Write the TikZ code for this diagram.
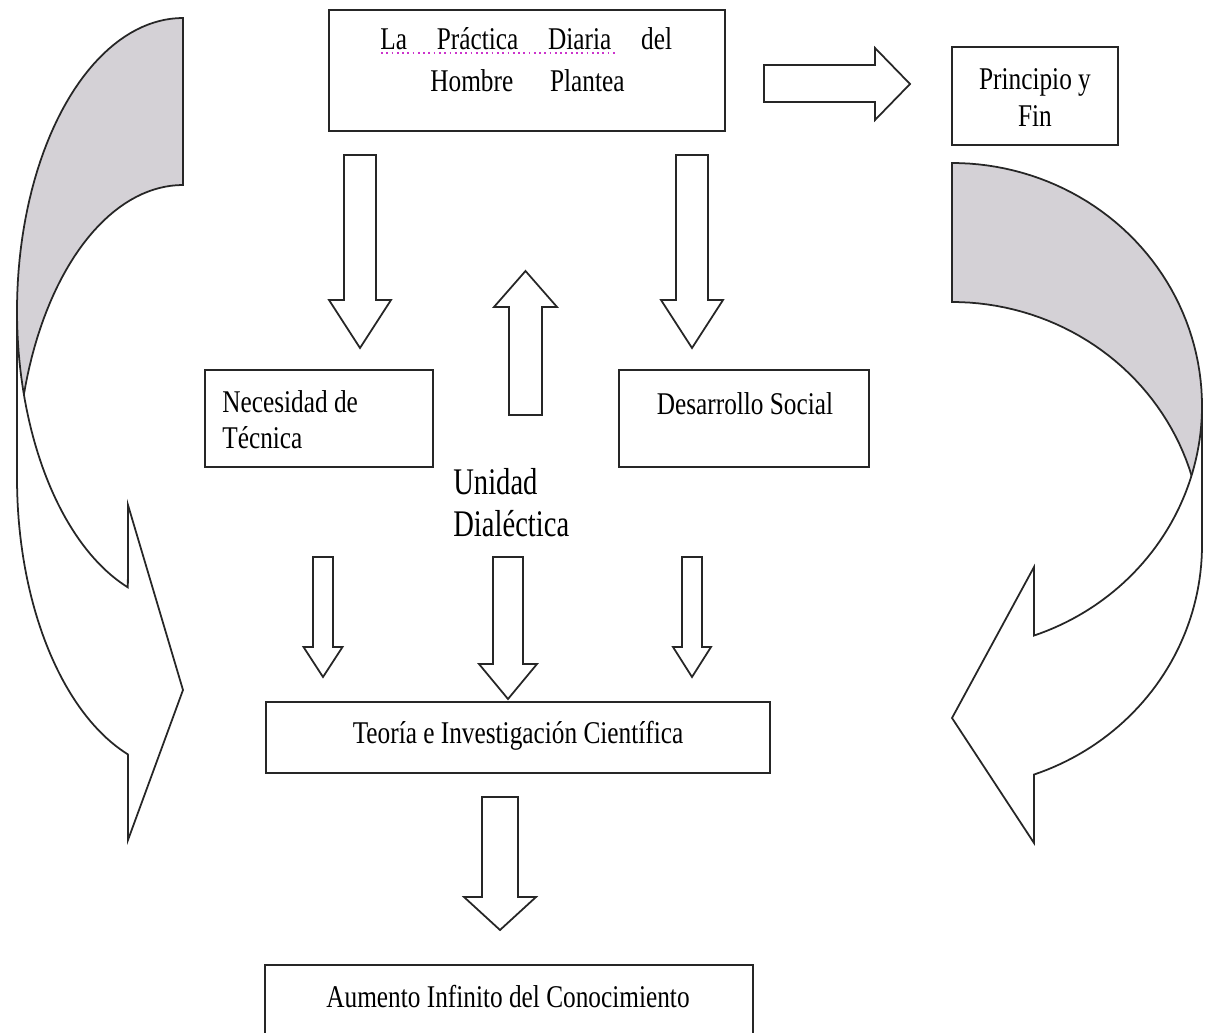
\documentclass[tikz,border=0pt]{standalone}
\usepackage{fontspec}
\setmainfont{Liberation Serif}[FakeStretch=0.8]
\newfontfamily\bigserif{Liberation Serif}[FakeStretch=0.76]

% block arrow: tail centre x, tail y, shaft half width, head base y, head half width, tip y
\newcommand\blkarrow[6]{%
  \draw[blockarrow] ({#1-#3},#2) -- ({#1+#3},#2) -- ({#1+#3},#4) -- ({#1+#5},#4)
    -- (#1,#6) -- ({#1-#5},#4) -- ({#1-#3},#4) -- cycle;}

\begin{document}
\begin{tikzpicture}[x=0.02cm, y=-0.02cm,
  outline/.style={draw=black!85, line width=1pt, line join=miter},
  box/.style={outline, fill=white, inner sep=0pt, rectangle},
  blockarrow/.style={outline, fill=white},
  backband/.style={outline, fill={rgb,255:red,212;green,209;blue,214}},
  frontband/.style={outline, fill=white},
  txt/.style={inner sep=0pt, font=\fontsize{18}{21}\selectfont},
  bigtxt/.style={inner sep=0pt, font=\bigserif\fontsize{21.4}{24}\selectfont}]

\clip (0,0) rectangle (1212,1033);
\fill[white] (0,0) rectangle (1212,1033);

% ---- curved arrow on the left (back band, then front band with head)
\draw[backband] (183,185)
  -- plot[domain=270:180, samples=45, variable=\t] ({183+166*cos(\t)},{478+293*sin(\t)})
  -- (17,311)
  -- plot[domain=180:270, samples=45, variable=\t] ({183+166*cos(\t)},{311+293*sin(\t)})
  -- cycle;
\draw[frontband] (17,311)
  -- plot[domain=180:109.4, samples=45, variable=\t] ({183+166*cos(\t)},{311+293*sin(\t)})
  -- (128,505) -- (183,690) -- (128,840) -- (128,757)
  -- plot[domain=109.4:180, samples=45, variable=\t] ({183+166*cos(\t)},{478+293*sin(\t)})
  -- cycle;

% ---- curved arrow on the right
\draw[backband] (952,302)
  -- plot[domain=270:360, samples=45, variable=\t] ({952+250*cos(\t)},{545+243*sin(\t)})
  -- (1202,406)
  -- plot[domain=360:270, samples=45, variable=\t] ({952+250*cos(\t)},{406+243*sin(\t)})
  -- cycle;
\draw[frontband] (1202,406)
  -- plot[domain=0:70.85, samples=45, variable=\t] ({952+250*cos(\t)},{406+243*sin(\t)})
  -- (1034,567) -- (952,718) -- (1034,843) -- (1034,775)
  -- plot[domain=70.85:0, samples=45, variable=\t] ({952+250*cos(\t)},{545+243*sin(\t)})
  -- cycle;

% ---- boxes
\node[box, minimum width=7.92cm, minimum height=2.42cm] (practica) at (527,70.5) {};
\node[box, minimum width=3.32cm, minimum height=1.96cm] (principio) at (1035,96) {};
\node[box, minimum width=4.56cm, minimum height=1.94cm] (necesidad) at (319,418.5) {};
\node[box, minimum width=5.00cm, minimum height=1.94cm] (desarrollo) at (744,418.5) {};
\node[box, minimum width=10.08cm, minimum height=1.42cm] (teoria) at (518,737.5) {};
\node[box, minimum width=9.76cm, minimum height=1.6cm] (aumento) at (509,1005) {};

% ---- texts
\node[txt, anchor=base west] (practicaA) at (380,50) {\makebox[166pt][s]{La Práctica Diaria del}};
\node[txt, anchor=base west] (practicaB) at (430,92) {\makebox[110.5pt][s]{Hombre Plantea}};
\draw[dotted, line width=1pt, color={rgb,255:red,204;green,51;blue,204}] (381,53) -- (618,53);
\node[txt, anchor=base] (principioA) at (1035,90) {Principio y};
\node[txt, anchor=base] (principioB) at (1035,127) {Fin};
\node[txt, anchor=base west] (necesidadA) at (222,412) {Necesidad de};
\node[txt, anchor=base west] (necesidadB) at (222,448) {Técnica};
\node[txt, anchor=base] (desarrolloA) at (745,414) {Desarrollo Social};
\node[bigtxt, anchor=base west] (unidadA) at (453,494) {Unidad};
\node[bigtxt, anchor=base west] (unidadB) at (453,536) {Dialéctica};
\node[txt, anchor=base] (teoriaA) at (518,743) {Teoría e Investigación Científica};
\node[txt, anchor=base] (aumentoA) at (508,1007) {Aumento Infinito del Conocimiento};

% ---- block arrows
\draw[blockarrow] (764,65) -- (875,65) -- (875,48) -- (910,84) -- (875,120) -- (875,102) -- (764,102) -- cycle;
\blkarrow{360}{155}{16}{300}{31}{348}
\blkarrow{692}{155}{16}{300}{31}{348}
\blkarrow{525.5}{415}{16.5}{307}{31.5}{271}
\blkarrow{323}{557}{10}{647}{19.5}{677}
\blkarrow{508}{557}{15}{664}{29}{699}
\blkarrow{692}{557}{10}{647}{19}{677}
\blkarrow{500}{797}{18}{897}{36}{930}

\end{tikzpicture}
\end{document}
